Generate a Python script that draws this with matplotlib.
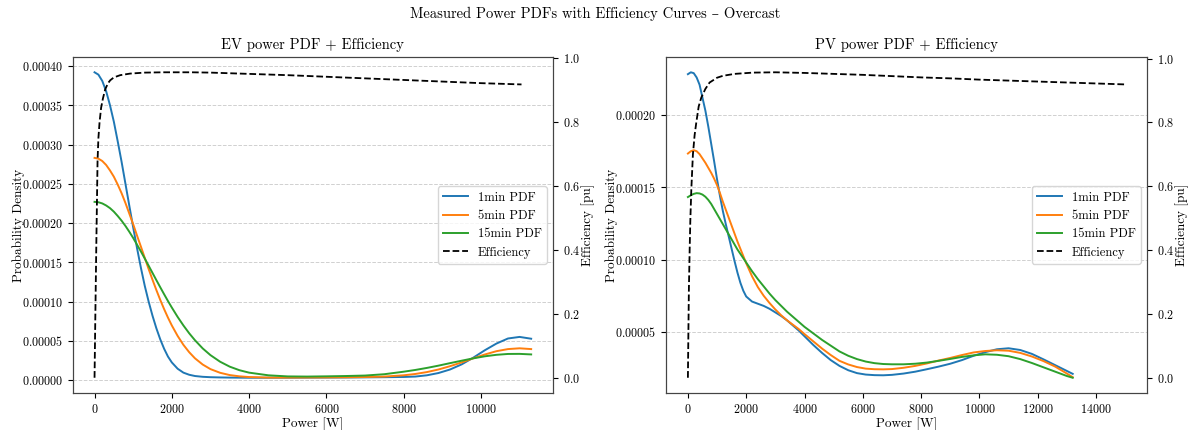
import matplotlib
matplotlib.use("Agg")
import matplotlib.pyplot as plt

plt.rcParams['font.family'] = ['cmr10', 'DejaVu Serif']
plt.rcParams['mathtext.fontset'] = 'cm'
plt.rcParams['axes.formatter.use_mathtext'] = True

# ---- EV power PDFs (kernel density, overcast day) ----
ev_power = [0, 100, 200, 300, 400, 500, 600, 700, 800, 900, 1000, 1100, 1200, 1300, 1400,
            1500, 1600, 1700, 1800, 1900, 2000, 2150, 2300, 2450, 2600, 2800, 3000, 3250,
            3500, 3750, 4000, 4500, 5000, 5500, 6000, 6500, 7000, 7500, 8000, 8300, 8600,
            8900, 9200, 9500, 9800, 10100, 10400, 10700, 11000, 11300]
ev_pdf_1min = [3.92e-4, 3.89e-4, 3.81e-4, 3.68e-4, 3.50e-4, 3.29e-4, 3.04e-4, 2.78e-4,
               2.50e-4, 2.22e-4, 1.945e-4, 1.68e-4, 1.43e-4, 1.20e-4, 1.0e-4, 8.2e-5,
               6.6e-5, 5.2e-5, 4.0e-5, 3.0e-5, 2.25e-5, 1.45e-5, 9.5e-6, 6.8e-6, 5.2e-6,
               4.2e-6, 3.7e-6, 3.4e-6, 3.2e-6, 3.1e-6, 3.0e-6, 3.0e-6, 3.0e-6, 3.1e-6,
               3.2e-6, 3.3e-6, 3.5e-6, 3.7e-6, 4.0e-6, 4.5e-6, 6.1e-6, 9.0e-6, 1.35e-5,
               2.0e-5, 2.85e-5, 3.8e-5, 4.65e-5, 5.3e-5, 5.5e-5, 5.27e-5]
ev_pdf_5min = [2.83e-4, 2.82e-4, 2.79e-4, 2.74e-4, 2.67e-4, 2.59e-4, 2.49e-4, 2.38e-4,
               2.255e-4, 2.12e-4, 1.985e-4, 1.84e-4, 1.70e-4, 1.556e-4, 1.415e-4, 1.278e-4,
               1.147e-4, 1.022e-4, 9.05e-5, 7.96e-5, 6.96e-5, 5.63e-5, 4.49e-5, 3.55e-5,
               2.77e-5, 1.98e-5, 1.4e-5, 9.3e-6, 6.4e-6, 4.8e-6, 3.9e-6, 3.2e-6, 3.2e-6,
               3.3e-6, 3.4e-6, 3.6e-6, 3.9e-6, 4.5e-6, 6.1e-6, 7.8e-6, 1.02e-5, 1.35e-5,
               1.77e-5, 2.25e-5, 2.77e-5, 3.26e-5, 3.68e-5, 3.95e-5, 4.05e-5, 3.95e-5]
ev_pdf_15min = [2.27e-4, 2.265e-4, 2.25e-4, 2.224e-4, 2.19e-4, 2.145e-4, 2.09e-4, 2.03e-4,
                1.963e-4, 1.889e-4, 1.81e-4, 1.725e-4, 1.638e-4, 1.548e-4, 1.457e-4,
                1.365e-4, 1.273e-4, 1.183e-4, 1.094e-4, 1.007e-4, 9.24e-5, 8.05e-5, 6.96e-5,
                5.96e-5, 5.07e-5, 4.03e-5, 3.18e-5, 2.34e-5, 1.71e-5, 1.26e-5, 9.5e-6,
                6.1e-6, 4.7e-6, 4.5e-6, 4.8e-6, 5.2e-6, 5.8e-6, 7.5e-6, 1.07e-5, 1.29e-5,
                1.55e-5, 1.84e-5, 2.16e-5, 2.47e-5, 2.77e-5, 3.03e-5, 3.22e-5, 3.33e-5,
                3.34e-5, 3.27e-5]

ev_eff_power = [0, 18, 44, 78, 100, 130, 170, 217, 277, 350, 406, 500, 665, 924, 1300,
                1785, 2500, 3000, 4000, 5000, 6000, 7000, 8000, 9000, 10000, 11050]
ev_eff = [0.0, 0.17, 0.40, 0.68, 0.75, 0.80, 0.845, 0.874, 0.903, 0.922, 0.931, 0.940,
          0.947, 0.952, 0.955, 0.956, 0.956, 0.955, 0.951, 0.947, 0.942, 0.937, 0.932,
          0.927, 0.922, 0.918]

# ---- PV power PDFs ----
pv_power = [0, 100, 200, 300, 400, 500, 600, 700, 800, 900, 1000, 1100, 1200, 1300, 1400,
            1500, 1600, 1700, 1800, 1900, 2000, 2200, 2400, 2600, 2800, 3000, 3200, 3400,
            3600, 3800, 4000, 4300, 4600, 4900, 5200, 5500, 5800, 6100, 6400, 6700, 7000,
            7400, 7800, 8200, 8600, 9000, 9400, 9800, 10200, 10600, 11000, 11400, 11800,
            12200, 12600, 13000, 13200]
pv_pdf_1min = [2.283e-4, 2.296e-4, 2.29e-4, 2.26e-4, 2.21e-4, 2.12e-4, 2.03e-4, 1.92e-4,
               1.80e-4, 1.68e-4, 1.555e-4, 1.44e-4, 1.335e-4, 1.245e-4, 1.16e-4, 1.075e-4,
               9.9e-5, 9.1e-5, 8.4e-5, 7.85e-5, 7.45e-5, 7.1e-5, 6.95e-5, 6.8e-5, 6.6e-5,
               6.35e-5, 6.1e-5, 5.8e-5, 5.45e-5, 5.1e-5, 4.7e-5, 4.1e-5, 3.55e-5, 3.05e-5,
               2.65e-5, 2.35e-5, 2.15e-5, 2.05e-5, 2.01e-5, 2.0e-5, 2.03e-5, 2.12e-5,
               2.25e-5, 2.42e-5, 2.6e-5, 2.8e-5, 3.05e-5, 3.35e-5, 3.6e-5, 3.8e-5, 3.87e-5,
               3.75e-5, 3.48e-5, 3.1e-5, 2.7e-5, 2.3e-5, 2.1e-5]
pv_pdf_5min = [1.734e-4, 1.75e-4, 1.757e-4, 1.75e-4, 1.73e-4, 1.70e-4, 1.67e-4, 1.635e-4,
               1.60e-4, 1.56e-4, 1.515e-4, 1.46e-4, 1.40e-4, 1.345e-4, 1.29e-4, 1.235e-4,
               1.18e-4, 1.125e-4, 1.075e-4, 1.025e-4, 9.75e-5, 8.85e-5, 8.1e-5, 7.5e-5,
               7.0e-5, 6.55e-5, 6.15e-5, 5.8e-5, 5.5e-5, 5.2e-5, 4.85e-5, 4.35e-5, 3.85e-5,
               3.4e-5, 3.0e-5, 2.75e-5, 2.57e-5, 2.46e-5, 2.42e-5, 2.41e-5, 2.43e-5,
               2.52e-5, 2.65e-5, 2.82e-5, 3.02e-5, 3.2e-5, 3.4e-5, 3.58e-5, 3.68e-5,
               3.73e-5, 3.7e-5, 3.55e-5, 3.3e-5, 2.98e-5, 2.6e-5, 2.12e-5, 1.87e-5]
pv_pdf_15min = [1.433e-4, 1.445e-4, 1.455e-4, 1.46e-4, 1.458e-4, 1.45e-4, 1.435e-4,
                1.413e-4, 1.385e-4, 1.35e-4, 1.315e-4, 1.28e-4, 1.245e-4, 1.21e-4,
                1.175e-4, 1.14e-4, 1.105e-4, 1.07e-4, 1.04e-4, 1.01e-4, 9.8e-5, 9.2e-5,
                8.65e-5, 8.15e-5, 7.65e-5, 7.2e-5, 6.8e-5, 6.4e-5, 6.05e-5, 5.7e-5, 5.35e-5,
                4.9e-5, 4.45e-5, 4.05e-5, 3.65e-5, 3.35e-5, 3.12e-5, 2.95e-5, 2.84e-5,
                2.78e-5, 2.76e-5, 2.76e-5, 2.8e-5, 2.88e-5, 3.0e-5, 3.13e-5, 3.27e-5,
                3.38e-5, 3.45e-5, 3.42e-5, 3.32e-5, 3.12e-5, 2.85e-5, 2.55e-5, 2.25e-5,
                1.95e-5, 1.83e-5]

pv_eff_power = [0, 15, 34, 60, 82, 117, 172, 230, 288, 370, 460, 600, 745, 1000, 1200,
                1600, 2232, 3000, 4000, 5000, 6000, 7000, 8000, 9000, 10000, 11000, 12000,
                13000, 14000, 15000]
pv_eff = [0.0, 0.13, 0.28, 0.40, 0.49, 0.59, 0.70, 0.76, 0.80, 0.85, 0.878, 0.905, 0.925,
          0.940, 0.946, 0.952, 0.956, 0.957, 0.955, 0.952, 0.949, 0.945, 0.941, 0.938,
          0.934, 0.931, 0.928, 0.925, 0.922, 0.919]

resolutions = ["1min", "5min", "15min"]


def draw_panel(ax, title, power, pdfs, eff_power, eff):
    lines = []
    for res, pdf in zip(resolutions, pdfs):
        l, = ax.plot(power, pdf, lw=1.4, label=f"{res} PDF")
        lines.append(l)
    ax.set_title(title, fontsize=10.5)
    ax.set_xlabel("Power [W]", fontsize=9.5, labelpad=1)
    ax.set_ylabel("Probability Density", fontsize=9.5, labelpad=-2)
    ax.grid(axis='y', linestyle='--', color='#d0d0d0', lw=0.7)
    ax.tick_params(labelsize=8.7)

    ax2 = ax.twinx()
    l, = ax2.plot(eff_power, eff, 'k--', lw=1.3, label="Efficiency")
    lines.append(l)
    ax2.set_ylabel("Efficiency [pu]", fontsize=9.5, labelpad=1)
    ax2.tick_params(labelsize=8.7)
    for a in (ax, ax2):
        for s in a.spines.values():
            s.set_color('#444444')

    ax.legend(lines, [x.get_label() for x in lines], loc='center right', fontsize=9)


fig = plt.figure(figsize=(11.9, 4.3), dpi=100)
ax_ev = fig.add_axes([0.0611, 0.086, 0.4036, 0.7814])
ax_pv = fig.add_axes([0.5597, 0.086, 0.4042, 0.7814])

draw_panel(ax_ev, "EV power PDF + Efficiency", ev_power,
           [ev_pdf_1min, ev_pdf_5min, ev_pdf_15min], ev_eff_power, ev_eff)
draw_panel(ax_pv, "PV power PDF + Efficiency", pv_power,
           [pv_pdf_1min, pv_pdf_5min, pv_pdf_15min], pv_eff_power, pv_eff)

fig.suptitle("Measured Power PDFs with Efficiency Curves \u2013 Overcast", fontsize=10.5, y=0.985)

fig.savefig("out.png", dpi=100)
